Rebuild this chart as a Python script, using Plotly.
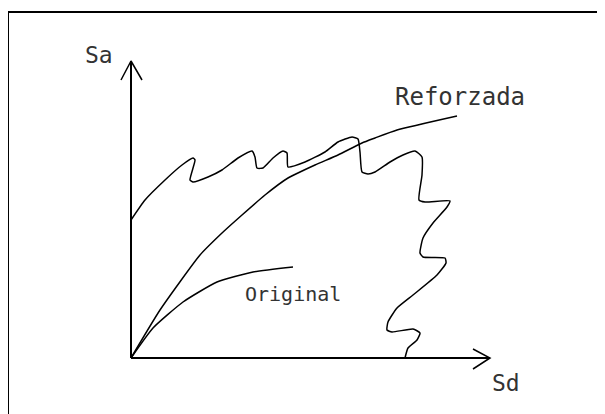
import plotly.graph_objects as go

# Spectral displacement (Sd) / spectral acceleration (Sa), sketch units
orig_sd = [0, 22, 52, 86, 122, 162]
orig_sa = [0, 30, 56, 76, 86, 91]

refz_sd = [0, 29, 69, 91, 111, 134, 157, 184, 207, 231, 244, 266, 326]
refz_sa = [0, 48, 103, 125, 143, 163, 180, 193, 203, 215, 220, 228, 242]

wave_sd = [0, 14, 34, 51, 62, 64, 59, 62, 77, 91, 107, 121, 124, 126, 132, 142,
           152, 156, 157, 174, 194, 207, 221, 227, 229, 231, 237, 244, 259, 272,
           284, 291, 291, 288, 294, 319, 316, 302, 292, 289, 292, 314, 315, 306,
           282, 266, 257, 256, 261, 282, 289, 286, 277, 274]
wave_sa = [138, 158, 178, 193, 200, 198, 178, 176, 181, 188, 200, 207, 201, 190,
           190, 200, 207, 205, 191, 196, 206, 216, 221, 219, 206, 186, 184, 186,
           196, 203, 207, 201, 183, 158, 156, 157, 151, 135, 120, 105, 101, 100,
           95, 83, 63, 50, 36, 28, 26, 29, 25, 18, 10, 0]

# axis arrows
yaxis_sd = [0, 0]
yaxis_sa = [0, 297]
yarrow_sd = [-10, 0, 11]
yarrow_sa = [278, 297, 278]
xaxis_sd = [0, 359]
xaxis_sa = [0, 0]
xarrow_sd = [342, 359, 342]
xarrow_sa = [9, 0, -11]

labels = ["Sa", "Sd", "Reforzada", "Original"]
label_sd = [-32, 375, 329, 162]
label_sa = [303, -25, 261, 64]
label_size = [23, 23, 24, 20]

fig = go.Figure()
line = dict(color="black", width=1.5)
axline = dict(color="black", width=2)
for xs, ys, ln, shp in [
    (yaxis_sd, yaxis_sa, axline, "linear"),
    (yarrow_sd, yarrow_sa, line, "linear"),
    (xaxis_sd, xaxis_sa, axline, "linear"),
    (xarrow_sd, xarrow_sa, line, "linear"),
    (orig_sd, orig_sa, line, "spline"),
    (refz_sd, refz_sa, line, "spline"),
    (wave_sd, wave_sa, line, "spline"),
]:
    fig.add_trace(go.Scatter(x=xs, y=ys, mode="lines",
                             line=dict(color=ln["color"], width=ln["width"],
                                       shape=shp, smoothing=0.5),
                             hoverinfo="skip", showlegend=False))

for t, x, y, s in zip(labels, label_sd, label_sa, label_size):
    fig.add_annotation(x=x, y=y, text=t, showarrow=False,
                       font=dict(family="DejaVu Sans Mono", size=s, color="#333"),
                       xanchor="center", yanchor="middle")

# page body adds an 8px offset; plot area starts at screen (9, 13)
fig.update_layout(
    width=605, height=414, autosize=False,
    margin=dict(l=1, r=0, t=5, b=0),
    paper_bgcolor="white", plot_bgcolor="white",
    xaxis=dict(range=[-122, 482], showgrid=False, zeroline=False,
               showticklabels=False, ticks="", side="top",
               showline=True, linecolor="black", linewidth=2),
    yaxis=dict(range=[-64, 345], showgrid=False, zeroline=False,
               showticklabels=False, ticks="",
               showline=True, linecolor="black", linewidth=2),
)
fig.write_html("out.html")
